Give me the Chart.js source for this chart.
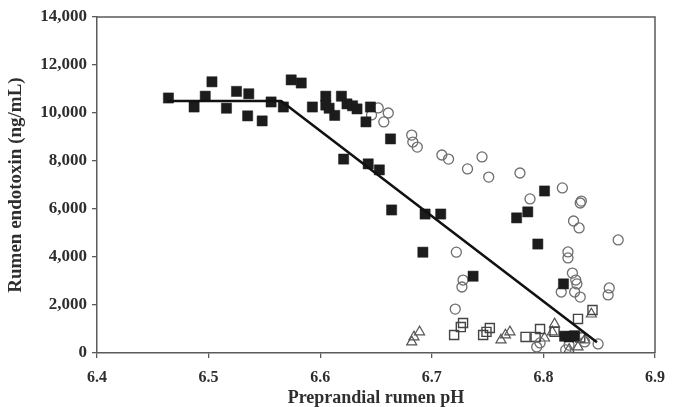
<!DOCTYPE html>
<html>
<head>
<meta charset="utf-8">
<script src="https://cdn.jsdelivr.net/npm/chart.js@4/dist/chart.umd.min.js"></script>
<style>
  html, body { margin: 0; padding: 0; background: #fff; }
  canvas { display: block; }
</style>
</head>
<body>
<canvas id="c" width="675" height="407"></canvas>
<script>
// Treatment with high endotoxin (filled squares)
const filledPH = [6.464, 6.487, 6.497, 6.503, 6.516, 6.525, 6.536, 6.535, 6.548, 6.556, 6.567, 6.574, 6.583, 6.593, 6.605, 6.605, 6.608, 6.613, 6.619, 6.624, 6.629, 6.633, 6.645, 6.641, 6.663, 6.621, 6.643, 6.653, 6.664, 6.694, 6.708, 6.692, 6.776, 6.786, 6.801, 6.795, 6.737, 6.818, 6.819, 6.823, 6.828];
const filledTox = [10625, 10250, 10700, 11300, 10200, 10900, 10800, 9880, 9670, 10460, 10250, 11380, 11250, 10250, 10700, 10330, 10200, 9900, 10700, 10380, 10300, 10170, 10250, 9630, 8920, 8080, 7880, 7630, 5960, 5790, 5790, 4200, 5630, 5880, 6750, 4540, 3200, 2880, 700, 670, 720];

// Open circles
const circlePH = [6.652, 6.646, 6.661, 6.657, 6.682, 6.683, 6.687, 6.709, 6.715, 6.745, 6.732, 6.751, 6.779, 6.817, 6.788, 6.834, 6.833, 6.827, 6.832, 6.867, 6.722, 6.822, 6.822, 6.728, 6.727, 6.826, 6.829, 6.830, 6.828, 6.833, 6.816, 6.859, 6.858, 6.721, 6.794, 6.823, 6.849, 6.837, 6.820, 6.797];
const circleTox = [10210, 9920, 10000, 9630, 9080, 8790, 8580, 8250, 8080, 8170, 7670, 7330, 7500, 6880, 6420, 6330, 6250, 5500, 5210, 4710, 4200, 4210, 3960, 3040, 2750, 3330, 3040, 2880, 2540, 2330, 2540, 2710, 2420, 1830, 250, 330, 380, 460, 130, 420];

// Open squares
const squarePH = [6.844, 6.831, 6.728, 6.726, 6.720, 6.752, 6.749, 6.746, 6.784, 6.793, 6.797, 6.810, 6.826, 6.833];
const squareTox = [1790, 1420, 1250, 1080, 750, 1040, 880, 750, 670, 670, 1000, 880, 700, 650];

// Open triangles
const trianglePH = [6.843, 6.682, 6.684, 6.689, 6.762, 6.766, 6.770, 6.801, 6.810, 6.808, 6.837, 6.831, 6.823];
const triangleTox = [1620, 460, 670, 880, 540, 750, 880, 620, 1210, 880, 540, 250, 150];

// Broken-line fit through the filled-square treatment
const fitPH = [6.463, 6.565, 6.848];
const fitTox = [10500, 10500, 450];

// Axis ticks
const xTicks = [6.4, 6.5, 6.6, 6.7, 6.8, 6.9];
const yTicks = [0, 2000, 4000, 6000, 8000, 10000, 12000, 14000];

const pts = (xs, ys) => xs.map((x, i) => ({ x: x, y: ys[i] }));

const serif = '"Liberation Serif", "Times New Roman", serif';
const textColor = '#2e2e2e';
const axisColor = '#5a5a5a';

// Top and right frame lines of the plot box
const frame = {
  id: 'frame',
  afterDraw(chart) {
    const { ctx, chartArea: a } = chart;
    ctx.save();
    ctx.strokeStyle = axisColor;
    ctx.lineWidth = 1.5;
    ctx.beginPath();
    ctx.moveTo(a.left, a.top);
    ctx.lineTo(a.right, a.top);
    ctx.lineTo(a.right, a.bottom);
    ctx.stroke();
    ctx.restore();
  }
};

new Chart(document.getElementById('c'), {
  type: 'scatter',
  data: {
    datasets: [
      {
        type: 'line',
        data: pts(fitPH, fitTox),
        borderColor: '#111',
        borderWidth: 2.6,
        pointRadius: 0,
        fill: false,
        tension: 0,
        order: 0
      },
      {
        data: pts(filledPH, filledTox),
        pointStyle: 'rect',
        pointRadius: 7.2,
        backgroundColor: '#1c1c1c',
        borderColor: '#1c1c1c',
        borderWidth: 0.5,
        order: 1
      },
      {
        data: pts(circlePH, circleTox),
        pointStyle: 'circle',
        pointRadius: 5,
        backgroundColor: 'rgba(255,255,255,0)',
        borderColor: '#6e6e6e',
        borderWidth: 1.3,
        order: 2
      },
      {
        data: pts(squarePH, squareTox),
        pointStyle: 'rect',
        pointRadius: 6.4,
        backgroundColor: 'rgba(255,255,255,0)',
        borderColor: '#444',
        borderWidth: 1.4,
        order: 3
      },
      {
        data: pts(trianglePH, triangleTox),
        pointStyle: 'triangle',
        pointRadius: 5.8,
        backgroundColor: 'rgba(255,255,255,0)',
        borderColor: '#555',
        borderWidth: 1.2,
        order: 4
      }
    ]
  },
  options: {
    responsive: false,
    animation: false,
    events: [],
    layout: { padding: { top: 17, right: 10, left: 0, bottom: 0 } },
    plugins: { legend: { display: false }, tooltip: { enabled: false } },
    scales: {
      x: {
        type: 'linear',
        min: 6.4,
        max: 6.9,
        afterBuildTicks(s) { s.ticks = xTicks.map(v => ({ value: v })); },
        afterFit(s) { s.height = 54; },
        ticks: {
          color: textColor,
          font: { family: serif, size: 16, weight: 'bold' },
          padding: 10,
          maxRotation: 0,
          callback: v => Number(v).toFixed(1)
        },
        grid: { drawOnChartArea: false, drawTicks: true, tickLength: 5, color: axisColor, lineWidth: 1.3 },
        border: { display: true, color: axisColor, width: 1.5 },
        title: {
          display: true,
          text: 'Preprandial rumen pH',
          color: textColor,
          font: { family: serif, size: 18, weight: 'bold', lineHeight: 1 },
          padding: { top: 0, bottom: 0 }
        }
      },
      y: {
        min: 0,
        max: 14000,
        afterBuildTicks(s) { s.ticks = yTicks.map(v => ({ value: v })); },
        afterFit(s) { s.width = 97; },
        ticks: {
          color: textColor,
          font: { family: serif, size: 17, weight: 'bold' },
          padding: 5,
          callback: v => Number(v).toLocaleString('en-US')
        },
        grid: { drawOnChartArea: false, drawTicks: true, tickLength: 5, color: axisColor, lineWidth: 1.3 },
        border: { display: true, color: axisColor, width: 1.5 },
        title: {
          display: true,
          text: 'Rumen endotoxin (ng/mL)',
          color: textColor,
          font: { family: serif, size: 19, weight: 'bold', lineHeight: 1.1 },
          padding: { top: 6, bottom: 0 }
        }
      }
    }
  },
  plugins: [frame]
});
</script>
</body>
</html>
